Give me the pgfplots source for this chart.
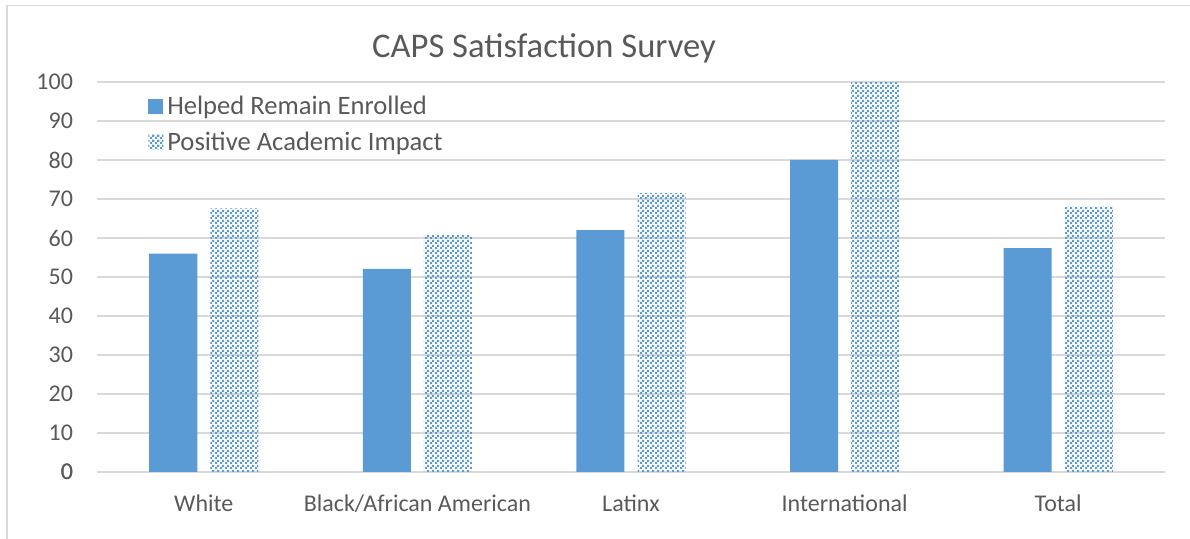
\documentclass[border=0pt]{standalone}
\usepackage{pgfplots}
\pgfplotsset{compat=1.18}
\usepackage{fontspec}
\setmainfont{Carlito}
\usetikzlibrary{patterns}
\definecolor{barblue}{HTML}{5B9BD5}
\definecolor{txtgray}{HTML}{595959}
\definecolor{gridgray}{HTML}{D9D9D9}
\pgfdeclarepatternformonly{checker}{\pgfpointorigin}{\pgfpoint{2.5pt}{2.5pt}}{\pgfpoint{2.5pt}{2.5pt}}{%
  \pgfpathrectangle{\pgfpointorigin}{\pgfpoint{1.25pt}{1.25pt}}%
  \pgfpathrectangle{\pgfpoint{1.25pt}{1.25pt}}{\pgfpoint{1.25pt}{1.25pt}}%
  \pgfusepath{fill}}
\begin{document}
\begin{tikzpicture}
\useasboundingbox (-48.5pt,-33.5pt) rectangle (546.5pt,236pt);
\draw[gridgray, line width=0.6pt] (-45pt,-33.5pt) -- (-45pt,233.25pt) -- (546.5pt,233.25pt);
\node[font=\fontsize{17.3}{20}\selectfont, text=txtgray] at (223.5pt,212pt) {CAPS Satisfaction Survey};
\begin{axis}[
  at={(0,0)}, anchor=south west,
  scale only axis, width=534pt, height=195pt,
  xmin=-0.5, xmax=4.5, ymin=0, ymax=100,
  ytick={0,10,...,100},
  xtick={0,1,2,3,4},
  xticklabels={White,Black/African American,Latinx,International,Total},
  axis line style={draw=none},
  major tick length=0pt,
  ymajorgrids, grid style={gridgray, line width=0.75pt},
  /pgf/number format/assume math mode=true,
  tick label style={font=\fontsize{12}{14}\selectfont, text=txtgray},
  yticklabel style={xshift=-8.5pt},
  xticklabel style={yshift=-8pt},
  ybar, bar width=0.225,
  legend style={at={(0.042,0.985)}, anchor=north west, draw=none, fill=none,
    font=\fontsize{13.3}{15}\selectfont, text=txtgray, row sep=3pt},
  legend cell align=left,
  extra y ticks={0}, extra y tick style={grid style={gridgray, line width=0.75pt}},
]
\addplot[fill=barblue, draw=none, bar shift=-0.143,
  legend image code/.code={\fill[barblue] (0pt,-3.75pt) rectangle (7.5pt,3.75pt);}]
  coordinates {(0,56) (1,52.1) (2,62) (3,80) (4,57.4)};
\addlegendentry{Helped Remain Enrolled}
\addplot[pattern=checker, pattern color=barblue, draw=none, bar shift=0.143,
  legend image code/.code={\fill[pattern=checker, pattern color=barblue] (0pt,-3.75pt) rectangle (7.5pt,3.75pt);}]
  coordinates {(0,67.6) (1,60.9) (2,71.5) (3,100) (4,68)};
\addlegendentry{Positive Academic Impact}
\end{axis}
\end{tikzpicture}
\end{document}
